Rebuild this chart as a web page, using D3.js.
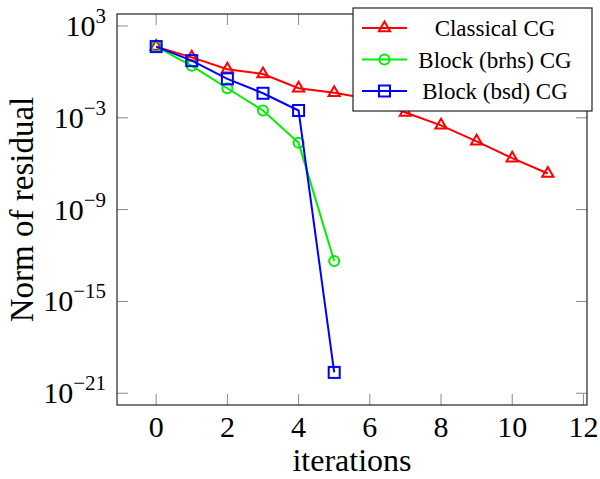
<!DOCTYPE html>
<html>
<head>
<meta charset="utf-8">
<script src="https://cdn.jsdelivr.net/npm/d3@7"></script>
<style>
  body { margin: 0; background: #fff; }
</style>
</head>
<body>
<div id="chart"></div>
<script>
// iterations and residual norms
const iterations = [0, 1, 2, 3, 4, 5, 6, 7, 8, 9, 10, 11];
const classicalCG = [4.5e1, 8.9e0, 1.5e0, 7.2e-1, 8.5e-2, 4.4e-2, 1.7e-2, 2.2e-3, 3.2e-4, 2.9e-5, 2.3e-6, 2.3e-7];
const brhsCG = [4.5e1, 2.5e0, 8.5e-2, 3.0e-3, 2.3e-5, 4.4e-13];
const bsdCG = [4.5e1, 5.4e0, 3.5e-1, 4.0e-2, 3.0e-3, 2.3e-20];
const xTicks = [0, 2, 4, 6, 8, 10, 12];
const yTickExps = [3, -3, -9, -15, -21];
const seriesNames = ["Classical CG", "Block (brhs) CG", "Block (bsd) CG"];

let w = 600;
let h = 479;
const m = { left: 117, right: 13, top: 14, bottom: 74 };
const serif = "'Liberation Serif', 'Times New Roman', 'DejaVu Serif', serif";

let svg = d3.select("#chart")
    .append("svg")
    .attr("width", w)
    .attr("height", h)
    .attr("font-family", serif);

// pgfplots style: enlarge limits by 10% of the data range
const xr = d3.extent(iterations);
const xPad = (xr[1] - xr[0]) * 0.1;
let x = d3.scaleLinear()
    .domain([xr[0] - xPad, xr[1] + xPad])
    .range([m.left, w - m.right]);

const allY = classicalCG.concat(brhsCG, bsdCG).map(Math.log10);
const lo = d3.min(allY), hi = d3.max(allY);
const yPad = (hi - lo) * 0.1;
let y = d3.scaleLog()
    .domain([Math.pow(10, lo - yPad), Math.pow(10, hi + yPad)])
    .range([h - m.bottom, m.top]);

const x0 = m.left, x1 = w - m.right, y0 = h - m.bottom, y1 = m.top;
const tickLen = 11;

// ticks (inside, on all four sides)
const ticks = svg.append("g").attr("stroke", "#8a8a8a").attr("stroke-width", 1);
xTicks.forEach(t => {
    ticks.append("line").attr("x1", x(t)).attr("x2", x(t)).attr("y1", y0).attr("y2", y0 - tickLen);
    ticks.append("line").attr("x1", x(t)).attr("x2", x(t)).attr("y1", y1).attr("y2", y1 + tickLen);
});
yTickExps.forEach(e => {
    const yy = y(Math.pow(10, e));
    ticks.append("line").attr("x1", x0).attr("x2", x0 + tickLen).attr("y1", yy).attr("y2", yy);
    ticks.append("line").attr("x1", x1).attr("x2", x1 - tickLen).attr("y1", yy).attr("y2", yy);
});

// frame
svg.append("rect")
    .attr("x", x0).attr("y", y1)
    .attr("width", x1 - x0).attr("height", y0 - y1)
    .attr("fill", "none").attr("stroke", "#222").attr("stroke-width", 1.2);

// x tick labels
svg.append("g").selectAll("text")
    .data(xTicks)
    .enter()
    .append("text")
    .attr("x", d => x(d))
    .attr("y", y0 + 32)
    .attr("text-anchor", "middle")
    .attr("font-size", 30)
    .text(d => d);

// y tick labels 10^e
yTickExps.forEach(e => {
    const t = svg.append("text")
        .attr("x", x0 - 11)
        .attr("y", y(Math.pow(10, e)) + 10)
        .attr("text-anchor", "end")
        .attr("font-size", 30);
    t.append("tspan").text("10");
    t.append("tspan")
        .attr("dy", -13)
        .attr("font-size", 21)
        .text(e < 0 ? "\u2212" + (-e) : e);
});

// axis labels
svg.append("text")
    .attr("x", (x0 + x1) / 2)
    .attr("y", 471)
    .attr("text-anchor", "middle")
    .attr("font-size", 32)
    .text("iterations");

svg.append("text")
    .attr("transform", "translate(33," + ((y0 + y1) / 2) + ") rotate(-90)")
    .attr("text-anchor", "middle")
    .attr("font-size", 33)
    .text("Norm of residual");

// series
const colors = ["#ff0000", "#00ee00", "#0000ff"];
const seriesData = [classicalCG, brhsCG, bsdCG];
const marks = ["triangle", "circle", "square"];

function drawMark(g, kind, cx, cy, color) {
    if (kind === "triangle") {
        const r = 6.5;
        const pts = [[cx, cy - r], [cx + r * 0.866, cy + r * 0.5], [cx - r * 0.866, cy + r * 0.5]];
        g.append("path").attr("d", "M" + pts.join("L") + "Z")
            .attr("fill", "none").attr("stroke", color).attr("stroke-width", 2);
    } else if (kind === "circle") {
        g.append("circle").attr("cx", cx).attr("cy", cy).attr("r", 5)
            .attr("fill", "none").attr("stroke", color).attr("stroke-width", 2);
    } else {
        g.append("rect").attr("x", cx - 5.5).attr("y", cy - 5.5).attr("width", 11).attr("height", 11)
            .attr("fill", "none").attr("stroke", color).attr("stroke-width", 2);
    }
}

const line = d3.line()
    .x((d, i) => x(iterations[i]))
    .y(d => y(d));

seriesData.forEach((vals, k) => {
    const g = svg.append("g");
    g.append("path")
        .datum(vals)
        .attr("d", line)
        .attr("fill", "none")
        .attr("stroke", colors[k])
        .attr("stroke-width", 2);
    vals.forEach((v, i) => drawMark(g, marks[k], x(iterations[i]), y(v), colors[k]));
});

// legend
const lg = svg.append("g");
lg.append("rect")
    .attr("x", 353).attr("y", 8)
    .attr("width", 239).attr("height", 103)
    .attr("fill", "#fff").attr("stroke", "#222").attr("stroke-width", 1.2);
seriesNames.forEach((name, k) => {
    const ly = 28 + k * 31.5;
    lg.append("line")
        .attr("x1", 362).attr("x2", 407).attr("y1", ly).attr("y2", ly)
        .attr("stroke", colors[k]).attr("stroke-width", 2);
    drawMark(lg, marks[k], 384.5, ly, colors[k]);
    lg.append("text")
        .attr("x", 495).attr("y", ly + 8)
        .attr("text-anchor", "middle")
        .attr("font-size", 23)
        .text(name);
});
</script>
</body>
</html>
